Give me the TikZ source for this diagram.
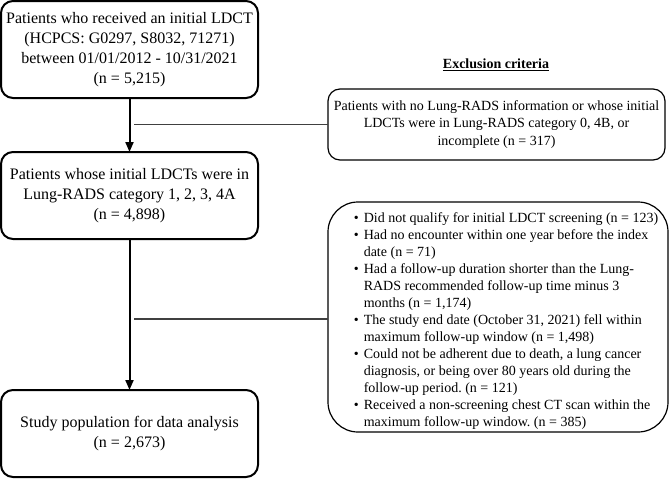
\documentclass[tikz,border=0pt]{standalone}
\usepackage{fontspec}
\setmainfont{Liberation Serif}
\usetikzlibrary{arrows.meta}
\frenchspacing
\newcommand{\bul}{\makebox[10pt][l]{\textbullet}}
\newcommand{\ind}{\hspace*{10pt}}
\begin{document}
\begin{tikzpicture}[x=1pt,y=-1pt,
  mainbox/.style={draw=black,line width=2pt,rounded corners=12pt,minimum width=257pt,
    inner sep=0pt,outer sep=0pt,align=center,font=\fontsize{16}{20}\selectfont},
  exbox/.style={draw=black,line width=1.2pt,inner sep=0pt,outer sep=0pt,
    font=\fontsize{14}{17.5}\selectfont},
  flow/.style={line width=2pt,-{Triangle[length=10pt,width=8pt]}},
  exline/.style={line width=1.6pt,draw=black!75}]
\useasboundingbox (0,0) rectangle (669,479);
\node[mainbox,minimum height=97pt] (b1) at (129.5,49.5)
  {Patients who received an initial LDCT\\(HCPCS: G0297, S8032, 71271)\\between 01/01/2012 - 10/31/2021\\(n = 5,215)};
\node[mainbox,minimum height=87pt] (b2) at (129.5,195.5)
  {Patients whose initial LDCTs were in\\Lung-RADS category 1, 2, 3, 4A\\(n = 4,898)};
\node[mainbox,minimum height=87pt] (b3) at (129.5,433.5)
  {Study population for data analysis\\(n = 2,673)};
\node[font=\bfseries\fontsize{14}{17}\selectfont] (title) at (496,65) {\underline{Exclusion criteria}};
\node[exbox,rounded corners=12pt,minimum width=337pt,minimum height=71pt,align=center] (e1) at (496.5,124.5)
  {Patients with no Lung-RADS information or whose initial\\LDCTs were in Lung-RADS category 0, 4B, or\\incomplete (n = 317)};
\node[exbox,rounded corners=30pt,minimum width=340pt,minimum height=230pt,
  font=\fontsize{14}{17}\selectfont] (e2) at (498,317)
  {\begin{tabular}{@{\hspace{16pt}}l@{}}
   \rule{0pt}{20pt}\bul Did not qualify for initial LDCT screening (n = 123)\\
   \bul Had no encounter within one year before the index\\
   \ind date (n = 71)\\
   \bul Had a follow-up duration shorter than the Lung-\\
   \ind RADS recommended follow-up time minus 3\\
   \ind months (n = 1,174)\\
   \bul The study end date (October 31, 2021) fell within\\
   \ind maximum follow-up window (n = 1,498)\\
   \bul Could not be adherent due to death, a lung cancer\\
   \ind diagnosis, or being over 80 years old during the\\
   \ind follow-up period. (n = 121)\\
   \bul Received a non-screening chest CT scan within the\\
   \ind maximum follow-up window. (n = 385)
   \end{tabular}};
\draw[flow] (b1) -- (b2);
\draw[flow] (b2) -- (b3);
\coordinate (j1) at (134,124.5);
\coordinate (j2) at (134,319);
\draw[exline] (j1) -- (j1 -| e1.west);
\draw[exline] (j2) -- (j2 -| e2.west);
\end{tikzpicture}
\end{document}
